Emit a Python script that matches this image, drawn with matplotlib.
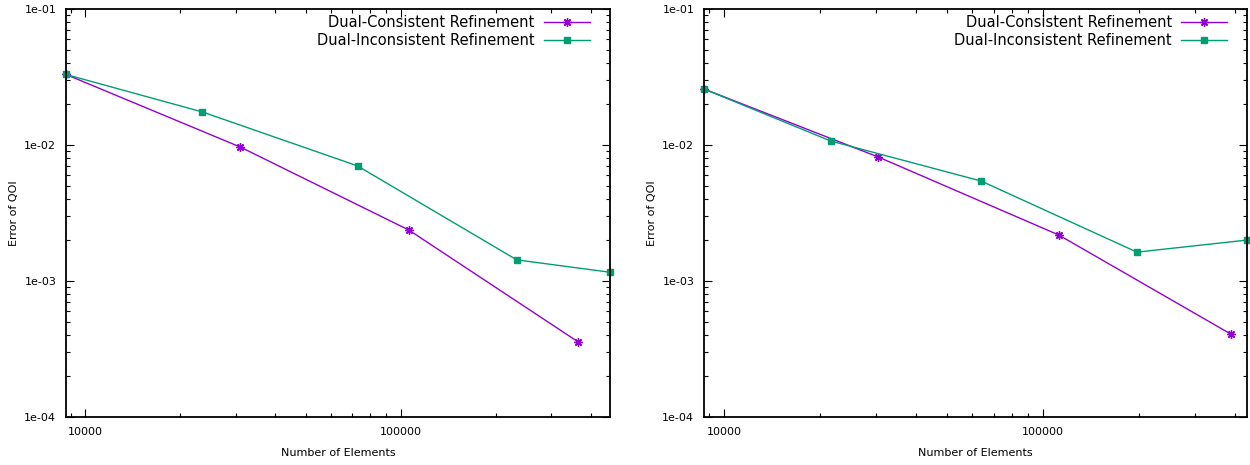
import numpy as np
import matplotlib
matplotlib.use("Agg")
import matplotlib.pyplot as plt
from matplotlib.ticker import LogLocator, FuncFormatter, NullFormatter

# left panel
left_dc_x = [8690, 31000, 106000, 365000]
left_dc_y = [0.0330, 0.00966, 0.00237, 0.000356]
left_di_x = [8690, 23500, 72900, 233000, 460000]
left_di_y = [0.0330, 0.0175, 0.00702, 0.00143, 0.00116]

# right panel
right_dc_x = [8650, 30400, 112000, 388000]
right_dc_y = [0.0258, 0.00817, 0.00218, 0.000407]
right_di_x = [8650, 21600, 64000, 197000, 436000]
right_di_y = [0.0258, 0.0107, 0.00543, 0.00163, 0.00200]

labels = ["Dual-Consistent Refinement", "Dual-Inconsistent Refinement"]
purple = "#9400D3"
green = "#009E73"

plt.rcParams['font.family'] = ['DejaVu Sans']

fig = plt.figure(figsize=(12.5, 4.65), dpi=100)
ax1 = fig.add_axes([66 / 1250, 48 / 465, 544 / 1250, 408 / 465])
ax2 = fig.add_axes([704 / 1250, 48 / 465, 543 / 1250, 408 / 465])

panels = [(ax1, left_dc_x, left_dc_y, left_di_x, left_di_y),
          (ax2, right_dc_x, right_dc_y, right_di_x, right_di_y)]

for ax, dcx, dcy, dix, diy in panels:
    ax.plot(dcx, dcy, color=purple, lw=1, marker=(8, 2, 0), ms=6,
            mew=1, label=labels[0], clip_on=False)
    ax.plot(dix, diy, color=green, lw=1, marker='s', ms=5,
            label=labels[1], clip_on=False)
    ax.set_xscale('log')
    ax.set_yscale('log')
    ax.set_xlim(dix[0], dix[-1])
    ax.set_ylim(1e-4, 1e-1)
    ax.xaxis.set_major_locator(LogLocator(base=10))
    ax.xaxis.set_minor_locator(LogLocator(base=10, subs=np.arange(2, 10)))
    ax.yaxis.set_major_locator(LogLocator(base=10))
    ax.yaxis.set_minor_locator(LogLocator(base=10, subs=np.arange(2, 10)))
    ax.xaxis.set_major_formatter(FuncFormatter(lambda v, p: "%d" % round(v)))
    ax.yaxis.set_major_formatter(FuncFormatter(lambda v, p: "%.0e" % v))
    ax.xaxis.set_minor_formatter(NullFormatter())
    ax.yaxis.set_minor_formatter(NullFormatter())
    ax.tick_params(which='both', direction='in', top=True, right=True,
                   labelsize=8, color='black')
    ax.tick_params(which='major', length=6, width=0.8, pad=7)
    ax.tick_params(which='minor', length=3, width=0.8)
    for s in ax.spines.values():
        s.set_linewidth(1.3)
    ax.set_xlabel("Number of Elements", fontsize=8, labelpad=8)
    ax.set_ylabel("Error of QOI", fontsize=8, labelpad=4)
    ax.legend(loc='upper right', bbox_to_anchor=(1 - 14 / 544, 1),
              frameon=False, markerfirst=False,
              fontsize=10.5, handlelength=3.2, handletextpad=0.6,
              labelspacing=0.25, borderaxespad=0.2, borderpad=0.2)

fig.savefig("out.png", dpi=100)
